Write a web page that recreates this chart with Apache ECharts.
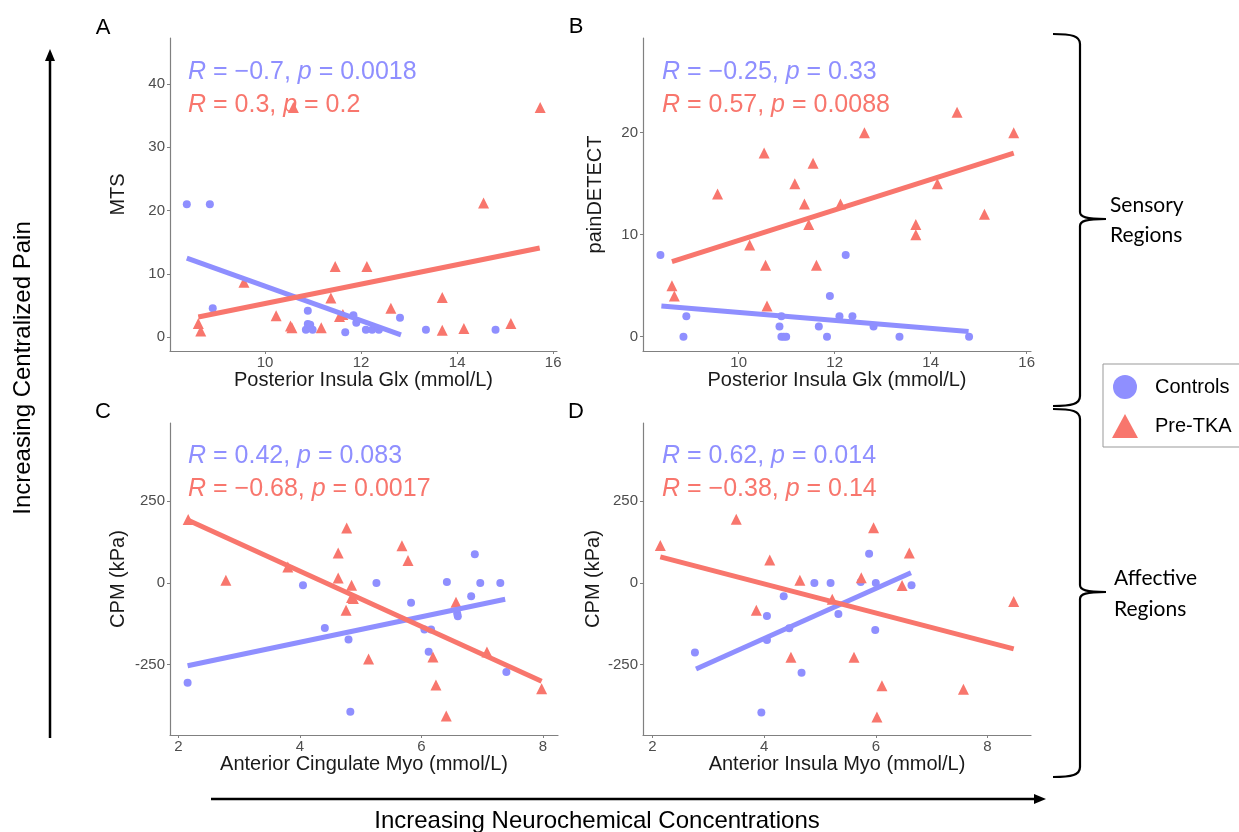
<!DOCTYPE html>
<html>
<head>
<meta charset="utf-8">
<script src="https://cdn.jsdelivr.net/npm/echarts@6/dist/echarts.min.js"></script>
<style>
html,body{margin:0;padding:0;background:#fff;}
#c{width:1239px;height:832px;}
</style>
</head>
<body>
<div id="c"></div>
<script>
// ---------- DATA ----------
const groupNames = ['Controls', 'Pre-TKA'];
const panelLetters = ['A', 'B', 'C', 'D'];
const xTitles = ['Posterior Insula Glx (mmol/L)', 'Posterior Insula Glx (mmol/L)', 'Anterior Cingulate Myo (mmol/L)', 'Anterior Insula Myo (mmol/L)'];
const yTitles = ['MTS', 'painDETECT', 'CPM (kPa)', 'CPM (kPa)'];
const xTicksGlx = [10, 12, 14, 16];
const xTicksMyo = [2, 4, 6, 8];
const yTicksMTS = [0, 10, 20, 30, 40];
const yTicksPD = [0, 10, 20];
const yTicksCPM = [-250, 0, 250];

// correlation annotations [R, p] : controls, pre-TKA
const corrCtrl = [['\u22120.7', '0.0018'], ['\u22120.25', '0.33'], ['0.42', '0.083'], ['0.62', '0.014']];
const corrTka  = [['0.3', '0.2'], ['0.57', '0.0088'], ['\u22120.68', '0.0017'], ['\u22120.38', '0.14']];

// Panel A/B: posterior insula Glx
const glxCtrl = [8.37, 8.85, 8.91, 10.85, 10.89, 10.89, 10.94, 10.99, 11.67, 11.84, 11.90, 12.10, 12.23, 12.37, 12.81, 13.35, 14.80];
const mtsCtrl = [21, 21, 4.6, 1.2, 2.1, 4.2, 2.0, 1.2, 0.8, 3.5, 2.3, 1.2, 1.2, 1.2, 3.1, 1.2, 1.2];
const pdCtrl  = [8, 0, 2, 1, 2, 0, 0, 0, 1, 0, 4, 2, 8, 2, 1, 0, 0];
const glxTka = [8.61, 8.66, 9.56, 10.23, 10.53, 10.56, 10.59, 11.17, 11.37, 11.46, 11.55, 11.62, 12.12, 12.62, 13.69, 13.69, 14.14, 14.55, 15.12, 15.73];
const mtsTka = [2.2, 1.0, 8.7, 3.4, 1.8, 1.5, 36.3, 1.5, 6.2, 11.2, 3.3, 3.6, 11.2, 4.6, 6.3, 1.1, 1.4, 21.2, 2.2, 36.3];
const pdTka  = [5, 4, 14, 9, 18, 7, 3, 15, 13, 11, 17, 7, 13, 20, 11, 10, 15, 22, 12, 20];

// Panel C: anterior cingulate Myo vs CPM
const acgCtrl = [2.15, 4.05, 4.41, 4.80, 4.83, 5.26, 5.83, 6.05, 6.16, 6.12, 6.42, 6.59, 6.60, 6.82, 6.88, 6.97, 7.30, 7.40];
const cpmAcgCtrl = [-306, -7, -138, -173, -395, 0, -61, -143, -143, -211, 3, -94, -102, -41, 88, 0, 0, -273];
const acgTka = [2.16, 2.78, 3.80, 4.77, 4.63, 4.63, 4.85, 4.85, 4.88, 4.76, 5.13, 5.68, 5.78, 6.19, 6.24, 6.41, 6.57, 7.08, 7.98];
const cpmAcgTka = [194, 8, 49, 168, 92, 15, -7, -45, -48, -84, -233, 114, 69, -227, -313, -408, -59, -212, -324];

// Panel D: anterior insula Myo vs CPM
const aiCtrl = [2.76, 3.95, 4.05, 4.05, 4.35, 4.45, 4.67, 4.90, 5.19, 5.33, 5.73, 5.88, 6.00, 5.99, 6.64];
const cpmAiCtrl = [-213, -397, -175, -101, -41, -139, -275, 0, 0, -95, 3, 89, 0, -144, -7];
const aiTka = [2.14, 3.50, 4.10, 3.86, 4.48, 4.64, 5.22, 5.61, 5.74, 5.96, 6.11, 6.02, 6.47, 6.60, 7.57, 8.47];
const cpmAiTka = [115, 195, 70, -84, -228, 8, -50, -228, 16, 169, -315, -411, -8, 92, -326, -57];

// fitted regression line end points [[x1,y1],[x2,y2]]
const fitCtrl = [
  [[8.37, 12.5], [12.83, 0.4]],
  [[8.39, 3.0], [14.79, 0.5]],
  [[2.15, -254], [7.38, -50]],
  [[2.78, -264], [6.63, 31]]
];
const fitTka = [
  [[8.61, 3.2], [15.72, 14.1]],
  [[8.61, 7.35], [15.73, 18.0]],
  [[2.16, 192], [7.98, -301]],
  [[2.14, 80], [8.47, -202]]
];

// ---------- STYLE ----------
const BLUE = '#8F8FFF';
const RED = '#F8766D';
const AX = '#808080';
const FONT = '"Liberation Sans", Arial, sans-serif';

const grids = [
  {left: 170, top: 38, width: 387, height: 313},
  {left: 643, top: 38, width: 388, height: 313},
  {left: 170, top: 423, width: 388, height: 312},
  {left: 643, top: 423, width: 388, height: 312}
];
const xRanges = [[8.02, 16.08], [8.007, 16.09], [1.86, 8.25], [1.83, 8.78]];
const yRanges = [[-2.16, 47.26], [-1.40, 29.28], [-466, 490], [-466, 490]];
const xTickSets = [xTicksGlx, xTicksGlx, xTicksMyo, xTicksMyo];
const yTickSets = [yTicksMTS, yTicksPD, yTicksCPM, yTicksCPM];
const yNameGaps = [42, 38, 42, 40];

const zip = (a, b) => a.map((v, i) => [v, b[i]]);
const ctrlData = [zip(glxCtrl, mtsCtrl), zip(glxCtrl, pdCtrl), zip(acgCtrl, cpmAcgCtrl), zip(aiCtrl, cpmAiCtrl)];
const tkaData = [zip(glxTka, mtsTka), zip(glxTka, pdTka), zip(acgTka, cpmAcgTka), zip(aiTka, cpmAiTka)];

const xAxis = [], yAxis = [], series = [];
for (let i = 0; i < 4; i++) {
  xAxis.push({
    type: 'value', gridIndex: i, min: xRanges[i][0], max: xRanges[i][1],
    name: xTitles[i], nameLocation: 'middle', nameGap: 18,
    nameTextStyle: {fontSize: 20, color: '#1a1a1a', fontFamily: FONT},
    axisLine: {show: true, onZero: false, lineStyle: {color: AX, width: 1.2}},
    axisTick: {show: true, length: 3, lineStyle: {color: AX}, customValues: xTickSets[i]},
    axisLabel: {fontSize: 15, color: '#4d4d4d', fontFamily: FONT, margin: 4, customValues: xTickSets[i]},
    splitLine: {show: false}
  });
  yAxis.push({
    type: 'value', gridIndex: i, min: yRanges[i][0], max: yRanges[i][1],
    name: yTitles[i], nameLocation: 'middle', nameGap: yNameGaps[i],
    nameTextStyle: {fontSize: 20, color: '#1a1a1a', fontFamily: FONT},
    axisLine: {show: true, onZero: false, lineStyle: {color: AX, width: 1.2}},
    axisTick: {show: true, length: 3, lineStyle: {color: AX}, customValues: yTickSets[i]},
    axisLabel: {fontSize: 15, color: '#4d4d4d', fontFamily: FONT, margin: 5, customValues: yTickSets[i]},
    splitLine: {show: false}
  });
  series.push({
    name: groupNames[0], type: 'scatter', xAxisIndex: i, yAxisIndex: i,
    symbol: 'circle', symbolSize: 8, itemStyle: {color: BLUE, opacity: 1},
    data: ctrlData[i], z: 2, silent: true
  });
  series.push({
    name: groupNames[1], type: 'scatter', xAxisIndex: i, yAxisIndex: i,
    symbol: 'triangle', symbolSize: 11, itemStyle: {color: RED, opacity: 1},
    data: tkaData[i], z: 2, silent: true
  });
  series.push({
    name: 'fitC' + i, type: 'line', xAxisIndex: i, yAxisIndex: i,
    data: fitCtrl[i], showSymbol: false, symbol: 'none',
    lineStyle: {color: BLUE, width: 5, cap: 'butt'}, z: 3, silent: true
  });
  series.push({
    name: 'fitT' + i, type: 'line', xAxisIndex: i, yAxisIndex: i,
    data: fitTka[i], showSymbol: false, symbol: 'none',
    lineStyle: {color: RED, width: 5, cap: 'butt'}, z: 3, silent: true
  });
}

// ---------- ANNOTATIONS ----------
const graphic = [];
const letterPos = [[103, 28], [576, 27], [103, 412], [576, 412]];
const corrPos = [[188, 72], [662, 72], [188, 456], [662, 456]];
function corrText(stat, color, x, y) {
  return {
    type: 'text', x: x, y: y, silent: true,
    style: {
      text: '{i|R}{n| = ' + stat[0] + ', }{i|p}{n| = ' + stat[1] + '}',
      verticalAlign: 'middle', align: 'left',
      rich: {
        i: {fontStyle: 'italic', fontSize: 25, fontFamily: FONT, fill: color, color: color},
        n: {fontSize: 25, fontFamily: FONT, fill: color, color: color}
      }
    }
  };
}
for (let i = 0; i < 4; i++) {
  graphic.push({
    type: 'text', x: letterPos[i][0], y: letterPos[i][1], silent: true,
    style: {text: panelLetters[i], fontSize: 22, fontFamily: FONT, fill: '#000', align: 'center', verticalAlign: 'middle'}
  });
  graphic.push(corrText(corrCtrl[i], BLUE, corrPos[i][0], corrPos[i][1]));
  graphic.push(corrText(corrTka[i], RED, corrPos[i][0], corrPos[i][1] + 33));
}
// vertical arrow
graphic.push({type: 'line', silent: true, shape: {x1: 50, y1: 738, x2: 50, y2: 58}, style: {stroke: '#000', lineWidth: 2.5}});
graphic.push({type: 'polygon', silent: true, shape: {points: [[50, 49], [45, 61], [55, 61]]}, style: {fill: '#000'}});
graphic.push({
  type: 'text', x: 23, y: 368, rotation: Math.PI / 2, silent: true,
  style: {text: 'Increasing Centralized Pain', fontSize: 24, fontFamily: FONT, fill: '#000', align: 'center', verticalAlign: 'middle'}
});
// horizontal arrow
graphic.push({type: 'line', silent: true, shape: {x1: 211, y1: 799, x2: 1037, y2: 799}, style: {stroke: '#000', lineWidth: 2.5}});
graphic.push({type: 'polygon', silent: true, shape: {points: [[1046, 799], [1034, 794], [1034, 804]]}, style: {fill: '#000'}});
graphic.push({
  type: 'text', x: 597, y: 821, silent: true,
  style: {text: 'Increasing Neurochemical Concentrations', fontSize: 24, fontFamily: FONT, fill: '#000', align: 'center', verticalAlign: 'middle'}
});
// braces built from lines and bezier curves
const braceStyle = {stroke: '#000', lineWidth: 2.2, fill: null};
function addBrace(y0, ym, y1) {
  const sx = 1080, ex = 1053, tx = 1106;
  graphic.push({type: 'bezierCurve', silent: true,
    shape: {x1: ex, y1: y0, cpx1: 1072, cpy1: y0, cpx2: sx, cpy2: y0 + 2, x2: sx, y2: y0 + 10}, style: braceStyle});
  graphic.push({type: 'line', silent: true, shape: {x1: sx, y1: y0 + 10, x2: sx, y2: ym - 7}, style: braceStyle});
  graphic.push({type: 'bezierCurve', silent: true,
    shape: {x1: sx, y1: ym - 7, cpx1: sx, cpy1: ym - 2, cpx2: 1086, cpy2: ym, x2: tx, y2: ym}, style: braceStyle});
  graphic.push({type: 'bezierCurve', silent: true,
    shape: {x1: tx, y1: ym, cpx1: 1086, cpy1: ym, cpx2: sx, cpy2: ym + 2, x2: sx, y2: ym + 7}, style: braceStyle});
  graphic.push({type: 'line', silent: true, shape: {x1: sx, y1: ym + 7, x2: sx, y2: y1 - 10}, style: braceStyle});
  graphic.push({type: 'bezierCurve', silent: true,
    shape: {x1: sx, y1: y1 - 10, cpx1: sx, cpy1: y1 - 2, cpx2: 1072, cpy2: y1, x2: ex, y2: y1}, style: braceStyle});
}
addBrace(34, 219, 406);
addBrace(409, 592, 777);
const braceFont = 'Lato, "Open Sans", sans-serif';
[['Sensory', 1110, 205], ['Regions', 1110, 235], ['Affective', 1114, 578], ['Regions', 1114, 609]].forEach(t => {
  graphic.push({
    type: 'text', x: t[1], y: t[2], silent: true,
    style: {text: t[0], fontSize: 21, fontFamily: braceFont, fill: '#000', align: 'left', verticalAlign: 'middle'}
  });
});

const chart = echarts.init(document.getElementById('c'), null, {renderer: 'canvas'});
chart.setOption({
  animation: false,
  backgroundColor: '#fff',
  grid: grids,
  xAxis: xAxis,
  yAxis: yAxis,
  series: series,
  legend: {
    data: [{name: groupNames[0], icon: 'circle'}, {name: groupNames[1], icon: 'triangle'}],
    orient: 'vertical', left: 1103, top: 364,
    itemWidth: 26, itemHeight: 24, itemGap: 15,
    padding: [11, 40, 9, 9],
    borderColor: '#999', borderWidth: 1, borderRadius: 0,
    backgroundColor: '#fff',
    selectedMode: false,
    textStyle: {fontSize: 20, color: '#000', fontFamily: FONT, padding: [0, 0, 0, 12]}
  },
  graphic: graphic
});
</script>
</body>
</html>
